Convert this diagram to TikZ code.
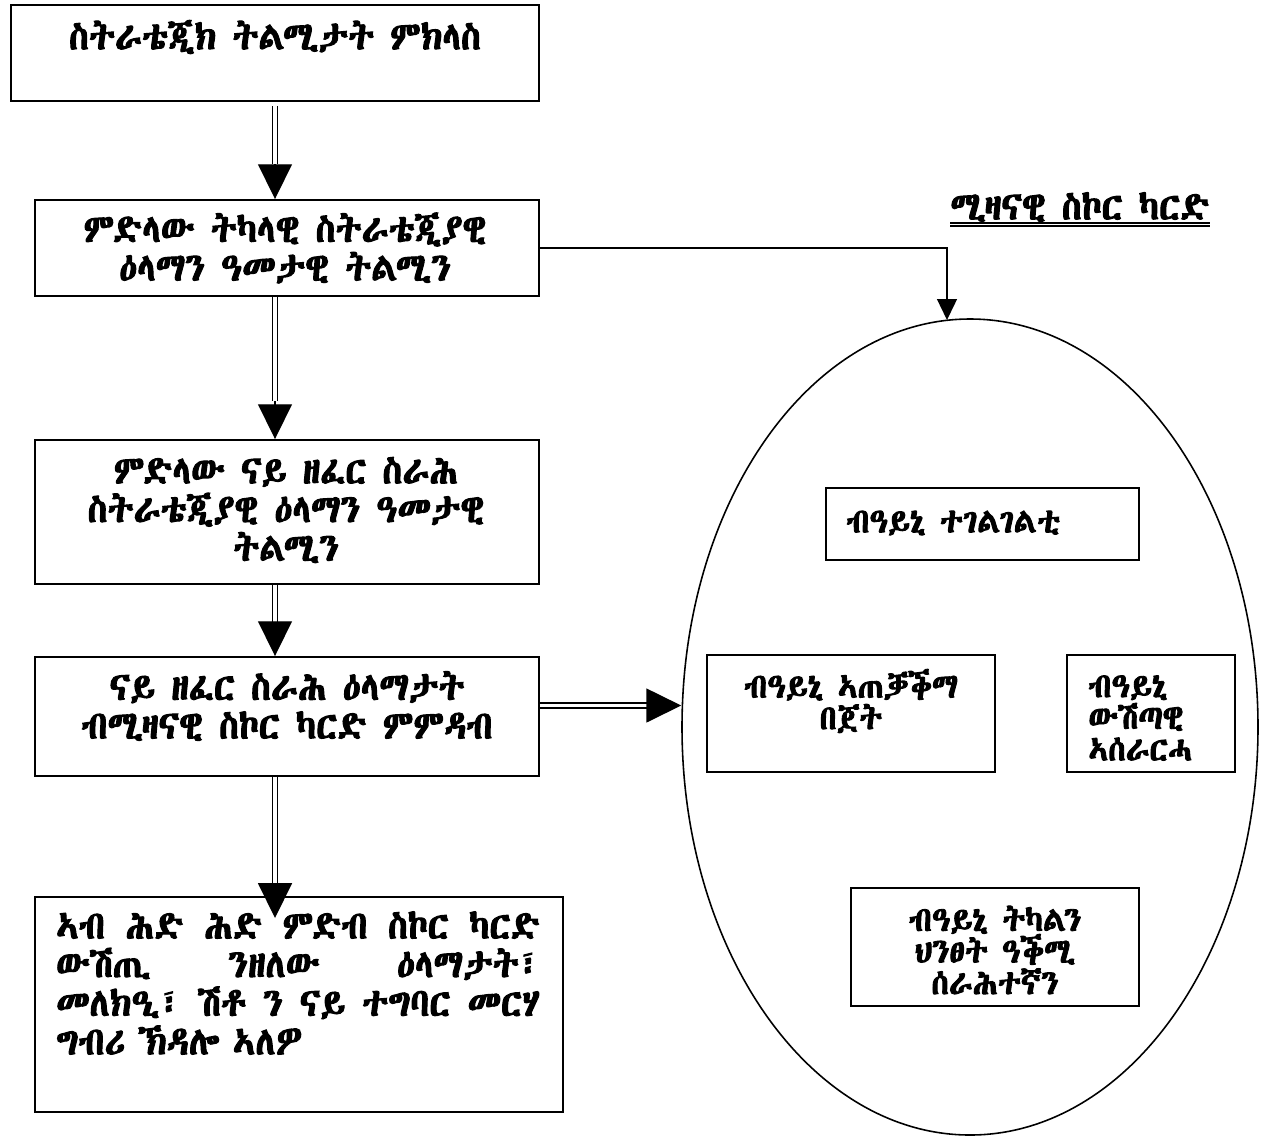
\documentclass[tikz,border=0pt]{standalone}
\usepackage{fontspec}
\usetikzlibrary{arrows.meta,shapes.geometric,fit,calc}
\newfontfamily\eth{Abyssinica SIL}[FakeBold=2.6, FakeStretch=0.92]
\begin{document}
\begin{tikzpicture}[x=0.02cm,y=-0.02cm,
  box/.style={draw, line width=1.1pt, inner sep=0pt, rectangle},
  tx/.style={font=\eth\fontsize{22.2}{22}\selectfont, align=center, inner sep=0pt},
  tsm/.style={font=\eth\fontsize{19.5}{18}\selectfont, align=center, inner sep=0pt},
  dbl/.style={double, double distance=2.2pt, line width=0.8pt},
  bighead/.style={line width=0.8pt, -{Triangle[length=19.8pt,width=19.3pt]}},
  smallhead/.style={line width=0.9pt, -{Triangle[length=11.9pt,width=11.3pt]}}]
\useasboundingbox (0,0) rectangle (1264,1137);
% left column boxes
\node[box, fit={(11,5) (539,101)}] (b1) {};
\node[box, fit={(35,200) (539,296)}] (b2) {};
\node[box, fit={(35,440) (539,584)}] (b3) {};
\node[box, fit={(35,657) (539,776)}] (b4) {};
\node[box, fit={(35,897) (563,1112)}] (b5) {};
\node[tx] (t1) at (275,37) {ስትራቴጂክ ትልሚታት ምክላስ};
\node[tx] (t2) at (285,248) {ምድላው ትካላዊ ስትራቴጂያዊ\\ዕላማን ዓመታዊ ትልሚን};
\node[tx] (t3) at (286,510) {ምድላው ናይ ዘፈር ስራሕ\\ስትራቴጂያዊ ዕላማን ዓመታዊ\\ትልሚን};
\node[tx] (t4) at (287,706) {ናይ ዘፈር ስራሕ ዕላማታት\\ብሚዛናዊ ስኮር ካርድ ምምዳብ};
\node[tx, text width=9.68cm, align=left] (t5) at (298,983)
  {\leavevmode\hbox to 9.68cm{ኣብ\hfill ሕድ\hfill ሕድ\hfill ምድብ\hfill ስኮር\hfill ካርድ}\\
   \leavevmode\hbox to 9.68cm{ውሽጢ\hfill ንዘለው\hfill ዕላማታት፣}\\
   \leavevmode\hbox to 9.68cm{መለክዒ፣\hfill ሽቶ\hfill ን\hfill ናይ\hfill ተግባር\hfill መርሃ}\\
   ግብሪ ኽዳሎ ኣለዎ};
% ellipse and its boxes
\node[draw, ellipse, line width=0.9pt, inner sep=0pt, minimum width=576*0.02cm, minimum height=816*0.02cm] (ell) at (970,727) {};
\node[tx] (ttl) at (1080,207) {ሚዛናዊ ስኮር ካርድ};
\draw[line width=0.7pt] ([yshift=-2pt]ttl.base west) -- ([yshift=-2pt]ttl.base east);
\draw[line width=0.7pt] ([yshift=-3.8pt]ttl.base west) -- ([yshift=-3.8pt]ttl.base east);
\node[box, fit={(826,488) (1139,560)}] (e1) {};
\node[box, fit={(707,655) (995,772)}] (e2) {};
\node[box, fit={(1067,655) (1235,772)}] (e3) {};
\node[box, fit={(851,888) (1139,1006)}] (e4) {};
\node[tsm, anchor=west] (u1) at (846,523) {ብዓይኒ ተገልገልቲ};
\node[tsm] (u2) at (851,701) {ብዓይኒ ኣጠቓቕማ\\በጀት};
\node[tsm, align=left, anchor=west] (u3) at (1088,718) {ብዓይኒ\\ውሽጣዊ\\ኣሰራርሓ};
\node[tsm] (u4) at (995,950) {ብዓይኒ ትካልን\\ህንፀት ዓቕሚ\\ሰራሕተኛን};
% connectors
\coordinate (etop) at (947,320);
\coordinate (a4tip) at (275,918);
\draw[dbl] ($(b1.south)+(0,4)$) -- ($(b1.south |- b2.north)+(0,-35)$);
\draw[bighead] ($(b1.south |- b2.north)+(0,-35)$) -- (b1.south |- b2.north);
\draw[dbl] (b1.south |- b2.south) -- ($(b1.south |- b3.north)+(0,-38)$);
\draw[bighead] ($(b1.south |- b3.north)+(0,-38)$) -- (b1.south |- b3.north);
\draw[dbl] (b1.south |- b3.south) -- ($(b1.south |- b4.north)+(0,-34)$);
\draw[bighead] ($(b1.south |- b4.north)+(0,-34)$) -- (b1.south |- b4.north);
\draw[dbl] (b1.south |- b4.south) -- ($(a4tip)+(0,-34)$);
\draw[bighead] ($(a4tip)+(0,-34)$) -- (a4tip);
\draw[dbl] ($(b4.east)+(0,-11)$) -- ($(b4.east -| ell.west)+(-34,-11)$);
\draw[bighead] ($(b4.east -| ell.west)+(-34,-11)$) -- ($(b4.east -| ell.west)+(0,-11)$);
\draw[smallhead] (b2.east) -| (etop);
\end{tikzpicture}
\end{document}
